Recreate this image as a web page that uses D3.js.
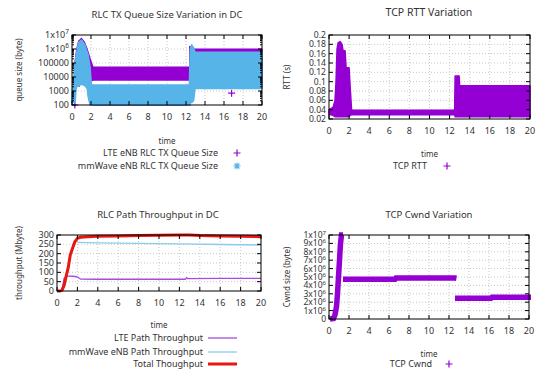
<!DOCTYPE html>
<html>
<head>
<meta charset="utf-8">
<script src="https://cdn.jsdelivr.net/npm/d3@7"></script>
<style>
  body { margin: 0; background: #fff; }
  svg { display: block; font-family: "Noto Sans", sans-serif; }
  text { fill: #333; }
</style>
</head>
<body>
<div id="chart"></div>
<script>
// ---- data ----
// queue size envelopes: [time, low, high] in bytes
let lteQueueEarly = [[0.3, 2000, 8e4], [0.5, 2500, 9e5], [0.7, 3000, 3.5e6], [1.0, 3000, 5.5e6], [1.3, 3000, 3e6], [1.6, 3000, 9e5], [1.9, 5000, 2e5], [2.2, 6000, 5e4]];
let lteQueueMid = [[2.2, 6000, 5e4], [12.4, 6000, 5e4]];
let lteQueueFloor = [[2.2, 100, 118], [12.4, 100, 118]];
let lteQueueLate = [[12.4, 1500, 1.5e6], [12.9, 2000, 9.5e5], [20, 2000, 9.5e5]];
let mmwQueueEarly = [[0, 150, 600], [0.15, 150, 4600], [0.33, 150, 1.2e5], [0.42, 1200, 3e5], [0.5, 2000, 6e5], [0.7, 2500, 3e6], [1.0, 3000, 4.4e6], [1.35, 2500, 2e6], [1.6, 1500, 6e5], [1.7, 400, 3.7e5], [1.9, 100, 5e4], [2.05, 100, 2700]];
let mmwQueueMid = [[2.05, 100, 2700], [12.35, 100, 2700]];
let mmwQueueLate = [[12.35, 100, 2700], [12.45, 150, 1e6], [12.6, 150, 2e6], [12.8, 200, 1.2e6], [12.95, 1500, 5.8e5], [20, 1500, 5.8e5]];
let lteQueueOutliers = [[0.3, 100], [16.8, 700], [0.75, 3500]];

// RTT envelope: [time, low, high] in seconds
let rttBand = [[0, 0.03, 0.04], [0.4, 0.028, 0.045], [0.6, 0.025, 0.06], [0.7, 0.025, 0.1], [0.8, 0.025, 0.17], [0.9, 0.025, 0.183], [1.1, 0.025, 0.186], [1.3, 0.025, 0.18], [1.4, 0.025, 0.166], [1.6, 0.025, 0.166], [1.7, 0.025, 0.13], [2.0, 0.025, 0.13], [2.1, 0.028, 0.09], [2.25, 0.029, 0.039], [12.5, 0.029, 0.039], [12.55, 0.025, 0.112], [12.95, 0.025, 0.112], [13.0, 0.025, 0.091], [20, 0.025, 0.091]];

// throughput lines (Mbyte)
let lteTpTime = [0, 0.4, 0.55, 0.7, 1.0, 1.6, 2.0, 2.3, 4, 8, 12.6, 12.7, 12.8, 16, 20];
let lteTpValue = [0, 2, 23, 70, 80, 79, 75, 64, 63, 63, 63, 72, 66, 68, 68];
let mmwTpTime = [2.0, 4, 8, 12, 16, 20];
let mmwTpValue = [261, 258, 255, 252, 249, 246];
let totalTpTime = [0, 0.3, 0.5, 0.7, 0.9, 1.1, 1.3, 1.5, 1.75, 2.0, 2.3, 3, 4, 6, 8, 10, 12, 13, 14, 16, 18, 20];
let totalTpValue = [0, 0, 5, 30, 80, 125, 193, 225, 264, 282, 288, 290, 293, 295, 297, 298, 300, 300, 297, 295, 293, 291];

// congestion window segments (bytes)
let cwndRise = [[0.1, 0], [0.45, 5e4], [0.6, 5e5], [0.75, 1.5e6], [0.85, 3e6], [0.95, 5e6], [1.05, 7e6], [1.15, 9e6], [1.25, 1e7], [1.4, 1e7]];
let cwndHigh = [[1.4, 4.73e6], [6.6, 4.73e6], [6.7, 4.88e6], [12.6, 4.88e6], [12.75, 4.85e6]];
let cwndLow = [[12.6, 2.46e6], [16.2, 2.46e6], [16.3, 2.58e6], [20.2, 2.58e6]];

let timeTicks = [0, 2, 4, 6, 8, 10, 12, 14, 16, 18, 20];
let queueTicks = [100, 1000, 10000, 100000, 1e6, 1e7];
let rttTicks = [0.02, 0.04, 0.06, 0.08, 0.1, 0.12, 0.14, 0.16, 0.18, 0.2];
let tpTicks = [0, 50, 100, 150, 200, 250, 300];
let cwndTicks = [0, 1e6, 2e6, 3e6, 4e6, 5e6, 6e6, 7e6, 8e6, 9e6, 1e7];

let purple = "#9400d3";
let blue = "#56b4e9";

let svg = d3.select("#chart").append("svg")
  .attr("width", 536)
  .attr("height", 370);

// writes "Nx10^E" with a superscript, plain numbers otherwise
function tickText(sel, v, small) {
  if (v >= 1e6) {
    let e = Math.floor(Math.log10(v) + 1e-9);
    let m = Math.round(v / Math.pow(10, e));
    sel.text(m + "x10");
    sel.append("tspan").attr("dy", small ? -3 : -4).attr("font-size", small ? 6 : 6.5).text(e);
  } else {
    sel.text(String(v));
  }
}

function frame(p) {
  let g = svg.append("g");
  let x = p.x, y = p.y;
  let [x0, x1] = x.range();
  let [y1, y0] = y.range();

  // grid
  timeTicks.slice(1, -1).forEach(function (t) {
    g.append("line").attr("x1", x(t)).attr("x2", x(t)).attr("y1", y0).attr("y2", y1)
      .attr("stroke", "#c8c8c8").attr("stroke-dasharray", "1,2");
  });
  p.yTicks.slice(1, -1).forEach(function (v) {
    g.append("line").attr("x1", x0).attr("x2", x1).attr("y1", y(v)).attr("y2", y(v))
      .attr("stroke", "#c8c8c8").attr("stroke-dasharray", "1,2");
  });

  // tick labels
  timeTicks.forEach(function (t) {
    g.append("text").attr("x", x(t)).attr("y", y1 + 15)
      .attr("text-anchor", "middle").attr("font-size", 9).text(t);
  });
  let fs = p.yTickSize || 9;
  p.yTicks.forEach(function (v) {
    let t = g.append("text").attr("x", x0 - 3).attr("y", y(v) + fs * 0.35)
      .attr("text-anchor", "end").attr("font-size", fs);
    tickText(t, v, fs < 9);
  });
  return g;
}

function border(p) {
  let g = svg.append("g");
  let x = p.x, y = p.y;
  let [x0, x1] = x.range();
  let [y1, y0] = y.range();
  timeTicks.forEach(function (t) {
    g.append("line").attr("x1", x(t)).attr("x2", x(t)).attr("y1", y1).attr("y2", y1 - 4).attr("stroke", "#000");
    g.append("line").attr("x1", x(t)).attr("x2", x(t)).attr("y1", y0).attr("y2", y0 + 4).attr("stroke", "#000");
  });
  p.yTicks.forEach(function (v) {
    g.append("line").attr("x1", x0).attr("x2", x0 + 4).attr("y1", y(v)).attr("y2", y(v)).attr("stroke", "#000");
    g.append("line").attr("x1", x1).attr("x2", x1 - 4).attr("y1", y(v)).attr("y2", y(v)).attr("stroke", "#000");
  });
  (p.minor || []).forEach(function (v) {
    g.append("line").attr("x1", x0).attr("x2", x0 + 2).attr("y1", y(v)).attr("y2", y(v)).attr("stroke", "#000");
    g.append("line").attr("x1", x1).attr("x2", x1 - 2).attr("y1", y(v)).attr("y2", y(v)).attr("stroke", "#000");
  });
  g.append("rect").attr("x", x0).attr("y", y0).attr("width", x1 - x0).attr("height", y1 - y0)
    .attr("fill", "none").attr("stroke", "#000").attr("stroke-width", 1);

  svg.append("text").attr("x", p.titleX).attr("y", p.titleY)
    .attr("text-anchor", "middle").attr("font-size", p.titleSize || 9.5).text(p.title);
  svg.append("text").attr("x", (x0 + x1) / 2).attr("y", p.timeY)
    .attr("text-anchor", "middle").attr("font-size", 8).text("time");
  svg.append("text").attr("transform", "translate(" + p.labelX + "," + ((y0 + y1) / 2) + ") rotate(-90)")
    .attr("text-anchor", "middle").attr("font-size", 8).text(p.yLabel);
}

function band(g, p, data, color) {
  let area = d3.area()
    .x(function (d) { return p.x(d[0]); })
    .y0(function (d) { return p.y(d[1]); })
    .y1(function (d) { return p.y(d[2]); });
  g.append("path").attr("d", area(data))
    .attr("fill", color).attr("stroke", color).attr("stroke-width", 1.5)
    .attr("stroke-linejoin", "round");
}

function plus(g, cx, cy, color) {
  g.append("path").attr("d", "M" + (cx - 3.5) + "," + cy + "h7M" + cx + "," + (cy - 3.5) + "v7")
    .attr("stroke", color).attr("stroke-width", 1.2);
}

function star(g, cx, cy, color) {
  g.append("path").attr("d", "M" + (cx - 3.5) + "," + cy + "h7M" + cx + "," + (cy - 3.5) + "v7" +
    "M" + (cx - 2.5) + "," + (cy - 2.5) + "l5,5M" + (cx - 2.5) + "," + (cy + 2.5) + "l5,-5")
    .attr("stroke", color).attr("stroke-width", 1.1);
}

function legendText(x, y, label) {
  svg.append("text").attr("x", x).attr("y", y + 3.2)
    .attr("text-anchor", "end").attr("font-size", 9).text(label);
}

// ---- panel 1: RLC TX queue size (log scale) ----
let p1 = {
  x: d3.scaleLinear().domain([0, 20]).range([72, 262]),
  y: d3.scaleLog().domain([100, 1e7]).range([105, 35]),
  yTicks: queueTicks,
  minor: [],
  title: "RLC TX Queue Size Variation in DC", titleX: 167, titleY: 18, titleSize: 9.5,
  timeY: 144, yLabel: "queue size (byte)", labelX: 22
};
queueTicks.slice(0, -1).forEach(function (d) {
  for (let k = 2; k < 10; k++) p1.minor.push(d * k);
});
let g1 = frame(p1);
let c1 = g1.append("g");
band(c1, p1, lteQueueEarly, purple);
band(c1, p1, lteQueueMid, purple);
band(c1, p1, lteQueueFloor, purple);
band(c1, p1, lteQueueLate, purple);
lteQueueOutliers.forEach(function (d) { plus(c1, p1.x(d[0]), p1.y(d[1]), purple); });
band(c1, p1, mmwQueueEarly, blue);
band(c1, p1, mmwQueueMid, blue);
band(c1, p1, mmwQueueLate, blue);
border(p1);
legendText(218, 153, "LTE eNB RLC TX Queue Size");
plus(svg, 237, 153, purple);
legendText(218, 166, "mmWave eNB RLC TX Queue Size");
star(svg, 237, 166, blue);

// ---- panel 2: TCP RTT ----
let p2 = {
  x: d3.scaleLinear().domain([0, 20]).range([329, 530]),
  y: d3.scaleLinear().domain([0.02, 0.2]).range([119, 35]),
  yTicks: rttTicks, yTickSize: 8.6,
  title: "TCP RTT Variation", titleX: 429, titleY: 16, titleSize: 10.5,
  timeY: 157, yLabel: "RTT (s)", labelX: 290
};
let g2 = frame(p2);
band(g2, p2, rttBand, purple);
border(p2);
legendText(427, 166, "TCP RTT");
plus(svg, 447, 166, purple);

// ---- panel 3: RLC path throughput ----
let p3 = {
  x: d3.scaleLinear().domain([0, 20]).range([57, 261]),
  y: d3.scaleLinear().domain([0, 300]).range([291, 235]),
  yTicks: tpTicks,
  title: "RLC Path Throughput in DC", titleX: 158, titleY: 218, titleSize: 9.5,
  timeY: 328, yLabel: "throughput (Mbyte)", labelX: 22
};
let g3 = frame(p3);
function tpLine(times, values, color, width) {
  let line = d3.line()
    .x(function (d, i) { return p3.x(times[i]); })
    .y(function (d) { return p3.y(d); });
  g3.append("path").attr("d", line(values))
    .attr("fill", "none").attr("stroke", color).attr("stroke-width", width)
    .attr("stroke-linejoin", "round");
}
tpLine(lteTpTime, lteTpValue, "#a64de0", 1.3);
tpLine(mmwTpTime, mmwTpValue, "#8ccbf0", 1.3);
tpLine(totalTpTime, totalTpValue, "#e8170f", 3);
border(p3);
legendText(203, 338, "LTE Path Throughput");
svg.append("line").attr("x1", 208).attr("x2", 237).attr("y1", 338).attr("y2", 338).attr("stroke", "#a64de0").attr("stroke-width", 1.3);
legendText(203, 352, "mmWave eNB Path Throughput");
svg.append("line").attr("x1", 208).attr("x2", 237).attr("y1", 352).attr("y2", 352).attr("stroke", "#8ccbf0").attr("stroke-width", 1.3);
legendText(203, 364, "Total Thoughput");
svg.append("line").attr("x1", 208).attr("x2", 237).attr("y1", 364).attr("y2", 364).attr("stroke", "#e8170f").attr("stroke-width", 3);

// ---- panel 4: TCP cwnd ----
let p4 = {
  x: d3.scaleLinear().domain([0, 20]).range([329, 529]),
  y: d3.scaleLinear().domain([0, 1e7]).range([319, 235]),
  yTicks: cwndTicks, yTickSize: 8.5,
  title: "TCP Cwnd Variation", titleX: 429, titleY: 218, titleSize: 9.5,
  timeY: 357, yLabel: "Cwnd size (byte)", labelX: 290
};
let g4 = frame(p4);
let cwLine = d3.line()
  .x(function (d) { return p4.x(d[0]); })
  .y(function (d) { return p4.y(d[1]); });
[cwndRise, cwndHigh, cwndLow].forEach(function (seg) {
  g4.append("path").attr("d", cwLine(seg))
    .attr("fill", "none").attr("stroke", purple).attr("stroke-width", 5.5);
});
border(p4);
legendText(432, 364, "TCP Cwnd");
plus(svg, 449, 364, purple);
</script>
</body>
</html>
